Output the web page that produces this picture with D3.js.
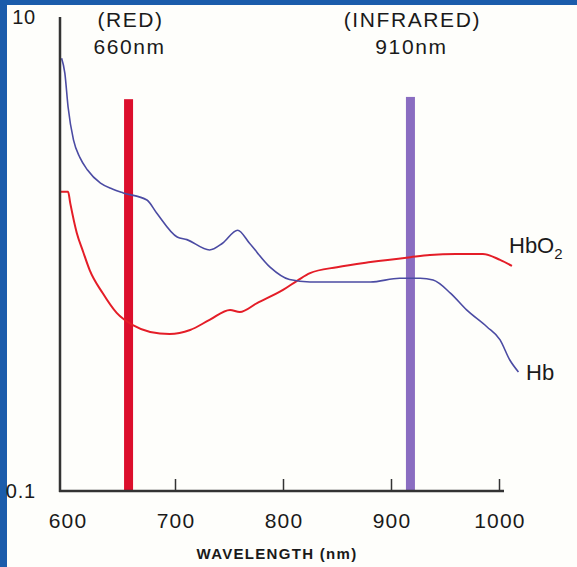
<!DOCTYPE html>
<html>
<head>
<meta charset="utf-8">
<script src="https://cdn.jsdelivr.net/npm/d3@7"></script>
<style>
  body { margin: 0; }
  svg { display: block; font-family: "Liberation Sans", Arial, sans-serif; }
</style>
</head>
<body>
<svg id="chart"></svg>
<script>
// wavelength (nm) / absorption
const hbWavelength = [595, 598, 601, 606, 612, 619, 631, 642, 652, 674, 683, 702, 711, 732, 744, 758, 769, 788, 806, 825, 850, 881, 908, 927, 939, 955, 970, 989, 1001, 1010, 1018];
const hbValues     = [6.7, 5.8, 4.17, 3.03, 2.55, 2.26, 1.99, 1.88, 1.81, 1.69, 1.49, 1.18, 1.15, 1.04, 1.11, 1.26, 1.11, 0.88, 0.78, 0.762, 0.762, 0.762, 0.79, 0.79, 0.776, 0.684, 0.581, 0.492, 0.434, 0.357, 0.318];

const hbo2Wavelength = [594, 601, 603, 609, 615, 621, 633, 646, 661, 677, 695, 714, 732, 751, 760, 776, 800, 814, 825, 850, 881, 918, 936, 960, 985, 1001, 1012];
const hbo2Values     = [1.83, 1.83, 1.64, 1.23, 1.02, 0.855, 0.684, 0.564, 0.501, 0.469, 0.46, 0.478, 0.527, 0.581, 0.569, 0.621, 0.705, 0.776, 0.83, 0.88, 0.925, 0.97, 0.99, 1.0, 1.0, 0.944, 0.891];

// LED wavelengths marked on the chart
const barNames  = ['(RED)', '(INFRARED)'];
const barLabels = ['660nm', '910nm'];
const barWavelength = [657, 918];
const barTop = [4.5, 4.6];

const xTicks = [600, 700, 800, 900, 1000];
const yTicks = [0.1, 10];

class SpectrumVis {
  constructor(_config) {
    this.config = {
      parentElement: _config.parentElement,
      width: 577,
      height: 567,
      axisX: 60,
      axisTop: 17,
      axisBottom: 491,
      axisRight: 504
    };
  }

  initVis() {
    let vis = this;
    const c = vis.config;

    vis.svg = d3.select(c.parentElement)
      .attr('width', c.width)
      .attr('height', c.height);

    // blue frame on the left and top
    vis.svg.append('rect')
      .attr('width', c.width).attr('height', c.height)
      .attr('fill', '#1b5cab');
    vis.svg.append('rect')
      .attr('x', 7).attr('y', 5)
      .attr('width', c.width - 7).attr('height', c.height - 5)
      .attr('fill', '#fefefb');

    vis.xScale = d3.scaleLinear()
      .domain([600, 1000])
      .range([67, 499]);

    vis.yScale = d3.scaleLog()
      .domain([0.1, 10])
      .range([c.axisBottom, c.axisTop]);

    vis.renderVis();
  }

  renderVis() {
    let vis = this;
    const c = vis.config;
    const ink = '#1a1a1a';

    // bars for the two LEDs
    const bars = barWavelength.map((w, i) => ({ w: w, top: barTop[i], name: barNames[i], label: barLabels[i] }));
    const barColors = ['#dc0f2c', '#8a6dc1'];

    vis.svg.selectAll('.led-bar')
      .data(bars)
      .join('rect')
      .attr('class', 'led-bar')
      .attr('x', d => vis.xScale(d.w) - 4.5)
      .attr('y', d => vis.yScale(d.top))
      .attr('width', 9)
      .attr('height', d => vis.yScale(0.1) - vis.yScale(d.top))
      .attr('fill', (d, i) => barColors[i]);

    vis.svg.selectAll('.led-name')
      .data(bars)
      .join('text')
      .attr('class', 'led-name')
      .attr('x', d => vis.xScale(d.w) + 2)
      .attr('y', 27)
      .attr('text-anchor', 'middle')
      .attr('font-size', 21)
      .attr('letter-spacing', 1.6)
      .attr('fill', ink)
      .text(d => d.name);

    vis.svg.selectAll('.led-label')
      .data(bars)
      .join('text')
      .attr('class', 'led-label')
      .attr('x', d => vis.xScale(d.w) + 1)
      .attr('y', 54)
      .attr('text-anchor', 'middle')
      .attr('font-size', 21)
      .attr('letter-spacing', 1.6)
      .attr('fill', ink)
      .text(d => d.label);

    // absorption curves
    const line = d3.line()
      .x(d => vis.xScale(d[0]))
      .y(d => vis.yScale(d[1]))
      .curve(d3.curveMonotoneX);

    vis.svg.append('path')
      .datum(hbo2Wavelength.map((w, i) => [w, hbo2Values[i]]))
      .attr('d', line)
      .attr('fill', 'none')
      .attr('stroke', '#e41d27')
      .attr('stroke-width', 2);

    vis.svg.append('path')
      .datum(hbWavelength.map((w, i) => [w, hbValues[i]]))
      .attr('d', line)
      .attr('fill', 'none')
      .attr('stroke', '#4b4ba3')
      .attr('stroke-width', 1.6);

    // axes
    const xAxis = d3.axisTop(vis.xScale)
      .tickValues(xTicks.slice(1))
      .tickSize(12)
      .tickFormat('');

    const xAxisG = vis.svg.append('g')
      .attr('transform', `translate(0,${c.axisBottom})`)
      .call(xAxis);
    xAxisG.select('.domain').remove();
    xAxisG.selectAll('line').attr('stroke', '#333').attr('stroke-width', 1.5);

    vis.svg.append('line')
      .attr('x1', c.axisX - 1).attr('x2', c.axisRight)
      .attr('y1', c.axisBottom).attr('y2', c.axisBottom)
      .attr('stroke', '#333').attr('stroke-width', 2.5);

    vis.svg.append('line')
      .attr('x1', c.axisX).attr('x2', c.axisX)
      .attr('y1', c.axisTop).attr('y2', c.axisBottom + 1)
      .attr('stroke', '#333').attr('stroke-width', 2.5);

    vis.svg.selectAll('.x-label')
      .data(xTicks)
      .join('text')
      .attr('class', 'x-label')
      .attr('x', d => vis.xScale(d) + 1)
      .attr('y', 528)
      .attr('text-anchor', 'middle')
      .attr('font-size', 21)
      .attr('letter-spacing', 1.2)
      .attr('fill', ink)
      .text(d => d);

    vis.svg.selectAll('.y-label')
      .data(yTicks)
      .join('text')
      .attr('class', 'y-label')
      .attr('x', 36)
      .attr('y', d => vis.yScale(d) + 7)
      .attr('text-anchor', 'end')
      .attr('font-size', 20)
      .attr('letter-spacing', 0.8)
      .attr('fill', ink)
      .text(d => d);

    vis.svg.append('text')
      .attr('x', 277)
      .attr('y', 559)
      .attr('text-anchor', 'middle')
      .attr('font-size', 15)
      .attr('font-weight', 'bold')
      .attr('letter-spacing', 1.3)
      .attr('fill', ink)
      .text('WAVELENGTH (nm)');

    // curve names
    const hbo2 = vis.svg.append('text')
      .attr('x', 509)
      .attr('y', 253)
      .attr('font-size', 22)
      .attr('fill', ink);
    hbo2.append('tspan').text('HbO');
    hbo2.append('tspan').attr('dy', 6).attr('font-size', 15).text('2');

    vis.svg.append('text')
      .attr('x', 526)
      .attr('y', 380)
      .attr('font-size', 22)
      .attr('fill', ink)
      .text('Hb');
  }
}

const chart = new SpectrumVis({ parentElement: '#chart' });
chart.initVis();
</script>
</body>
</html>
